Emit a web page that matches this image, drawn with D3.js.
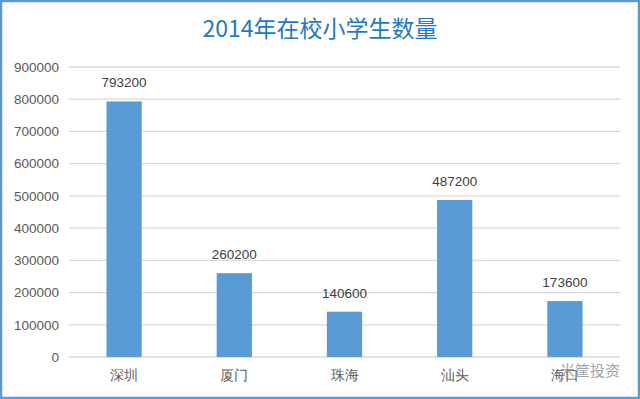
<!DOCTYPE html>
<html>
<head>
<meta charset="utf-8">
<script src="https://cdn.jsdelivr.net/npm/d3@7"></script>
<style>
  body { margin: 0; background: #fff; }
  svg { display: block; font-family: "Noto Sans CJK SC", "Liberation Sans", sans-serif; }
</style>
</head>
<body>
<script>
// chart data
var cities = ["深圳", "厦门", "珠海", "汕头", "海口"];
var pupils = [793200, 260200, 140600, 487200, 173600];
var yTicks = [0, 100000, 200000, 300000, 400000, 500000, 600000, 700000, 800000, 900000];

var svgWidth = 640;
var svgHeight = 399;

var margin = { top: 67, right: 20, bottom: 42, left: 69 };
var chartWidth = svgWidth - margin.left - margin.right;
var chartHeight = svgHeight - margin.top - margin.bottom;

var svg = d3.select("body")
  .append("svg")
  .attr("width", svgWidth)
  .attr("height", svgHeight);

// outer frame
svg.append("rect")
  .attr("x", 1).attr("y", 1)
  .attr("width", svgWidth - 2).attr("height", svgHeight - 2)
  .attr("fill", "#fff")
  .attr("stroke", "#5B9BD5")
  .attr("stroke-width", 2.5);

// title
svg.append("text")
  .attr("x", svgWidth / 2)
  .attr("y", 37)
  .attr("text-anchor", "middle")
  .attr("fill", "#1F78C8")
  .style("font-size", "23px")
  .text("2014年在校小学生数量");

var chartGroup = svg.append("g")
  .attr("transform", `translate(${margin.left}, ${margin.top})`);

var xScale = d3.scaleBand()
  .domain(cities)
  .range([0, chartWidth])
  .paddingInner(0.68)
  .paddingOuter(0.34);

var yScale = d3.scaleLinear()
  .domain([0, 900000])
  .range([chartHeight, 0]);

// gridlines
chartGroup.selectAll(".grid")
  .data(yTicks)
  .enter()
  .append("line")
  .attr("x1", 0)
  .attr("x2", chartWidth)
  .attr("y1", d => yScale(d))
  .attr("y2", d => yScale(d))
  .attr("stroke", "#d9d9d9")
  .attr("stroke-width", 1.3);

// y axis labels
var leftAxis = d3.axisLeft(yScale).tickValues(yTicks).tickSize(0).tickPadding(10).tickFormat(d3.format("d"));
var yAxisG = chartGroup.append("g").call(leftAxis);
yAxisG.select(".domain").remove();
yAxisG.selectAll("text")
  .attr("fill", "#595959")
  .style("font-family", "'Liberation Sans', sans-serif")
  .style("font-size", "13.5px");

// x axis labels
var bottomAxis = d3.axisBottom(xScale).tickSize(0).tickPadding(13);
var xAxisG = chartGroup.append("g")
  .attr("transform", `translate(0, ${chartHeight})`)
  .call(bottomAxis);
xAxisG.select(".domain").remove();
xAxisG.selectAll("text")
  .attr("fill", "#595959")
  .style("font-size", "14px");

// bars
chartGroup.selectAll(".bar")
  .data(pupils)
  .enter()
  .append("rect")
  .attr("x", (d, i) => xScale(cities[i]))
  .attr("y", d => yScale(d))
  .attr("width", xScale.bandwidth())
  .attr("height", d => chartHeight - yScale(d))
  .attr("fill", "#5B9BD5");

// value labels
chartGroup.selectAll(".val")
  .data(pupils)
  .enter()
  .append("text")
  .attr("x", (d, i) => xScale(cities[i]) + xScale.bandwidth() / 2)
  .attr("y", d => yScale(d) - 14)
  .attr("text-anchor", "middle")
  .attr("fill", "#404040")
  .style("font-family", "'Liberation Sans', sans-serif")
  .style("font-size", "13.5px")
  .text(d => d);

// watermark
svg.append("text")
  .attr("x", 620)
  .attr("y", 376)
  .attr("text-anchor", "end")
  .attr("fill", "#8c8c8c")
  .attr("opacity", 0.8)
  .style("font-size", "15px")
  .text("米筐投资");
</script>
</body>
</html>
